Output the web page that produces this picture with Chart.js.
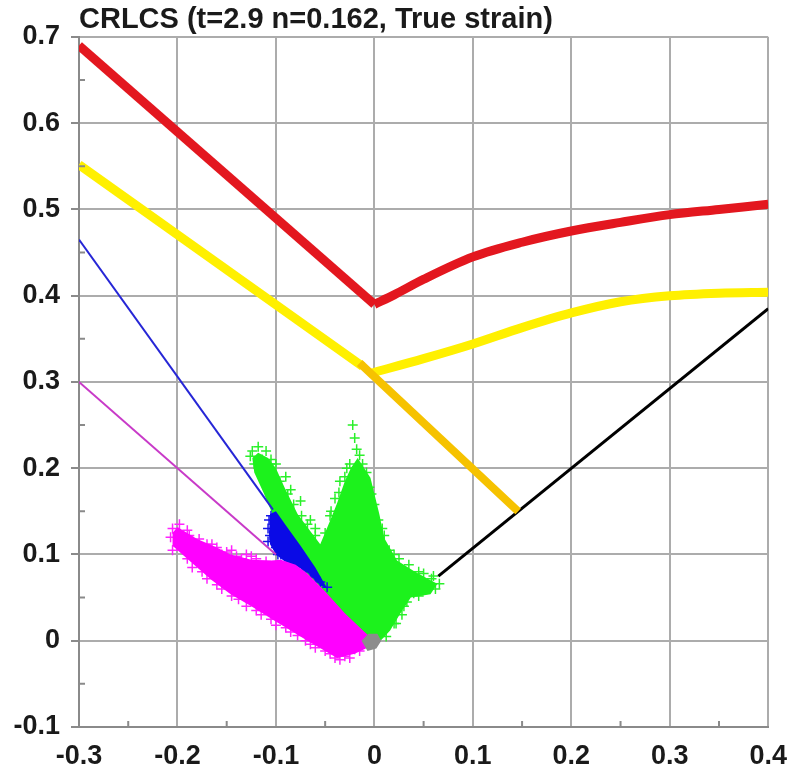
<!DOCTYPE html>
<html>
<head>
<meta charset="utf-8">
<title>CRLCS FLD</title>
<script src="https://cdn.jsdelivr.net/npm/chart.js@4/dist/chart.umd.min.js"></script>
<style>
  html, body { margin: 0; padding: 0; background: #fff; }
  #wrap { width: 800px; height: 773px; position: relative; }
</style>
</head>
<body>
<div id="wrap"><canvas id="fld"></canvas></div>
<script>
// axis ranges / ticks
const X_MIN = -0.3, X_MAX = 0.4, Y_MIN = -0.1, Y_MAX = 0.7;
const MINOR_X = [-0.25, -0.15, -0.05, 0.05, 0.15, 0.25, 0.35];
const MINOR_Y = [-0.05, 0.05, 0.15, 0.25, 0.35, 0.45, 0.55, 0.65];

// curves, [minor strain, major strain]
const redLeft = [[-0.3, 0.69], [0, 0.39]];
const redRight = [[0, 0.39], [0.02, 0.401], [0.05, 0.419], [0.1, 0.445], [0.15, 0.462],
  [0.2, 0.475], [0.25, 0.485], [0.3, 0.494], [0.35, 0.50], [0.4, 0.506]];
const yellowLeft = [[-0.3, 0.552], [-0.012, 0.318]];
const yellowRight = [[-0.004, 0.31], [0.05, 0.327], [0.1, 0.344], [0.15, 0.363], [0.2, 0.38],
  [0.25, 0.393], [0.3, 0.4], [0.35, 0.403], [0.4, 0.404]];
const orangeLine = [[-0.015, 0.322], [0.146, 0.15]];
const blackLine = [[0.065, 0.075], [0.4, 0.385]];
const blueLine = [[-0.3, 0.465], [-0.103, 0.152]];
const magentaLine = [[-0.3, 0.30], [-0.1, 0.10]];

// measured strain clouds: outline (starts leftmost, ends rightmost) + loose points
const greenCloud = [[-0.124, 0.212], [-0.118, 0.218], [-0.108, 0.212], [-0.1, 0.2], [-0.091, 0.177],
  [-0.078, 0.147], [-0.065, 0.127], [-0.055, 0.112], [-0.045, 0.139], [-0.038, 0.159], [-0.03, 0.185],
  [-0.024, 0.2], [-0.017, 0.212], [-0.004, 0.189], [0.005, 0.147], [0.01, 0.119], [0.023, 0.093],
  [0.04, 0.081], [0.057, 0.07], [0.064, 0.066], [0.057, 0.054], [0.037, 0.05], [0.026, 0.031],
  [0.016, 0.012], [0.003, -0.004], [-0.02, 0.012], [-0.051, 0.048], [-0.08, 0.092], [-0.101, 0.14],
  [-0.112, 0.17], [-0.122, 0.195], [-0.124, 0.212], [0.064, 0.066]];
const greenPts = [[-0.022, 0.25], [-0.02, 0.235], [-0.018, 0.222], [-0.124, 0.22], [-0.118, 0.225],
  [-0.11, 0.22], [-0.1, 0.205], [-0.09, 0.19], [-0.075, 0.162], [-0.065, 0.14], [-0.045, 0.145],
  [-0.035, 0.185], [-0.028, 0.2], [-0.012, 0.205], [-0.003, 0.17], [0.008, 0.13], [0.02, 0.1],
  [0.035, 0.088], [0.05, 0.078], [0.06, 0.075], [0.066, 0.066], [0.055, 0.06], [0.04, 0.055],
  [0.03, 0.04], [0.02, 0.02], [-0.06, 0.13], [-0.05, 0.125], [-0.085, 0.175], [-0.105, 0.21],
  [-0.126, 0.214], [-0.122, 0.205], [-0.114, 0.21], [-0.106, 0.205], [-0.096, 0.185], [-0.088, 0.17],
  [-0.082, 0.158], [-0.074, 0.145], [-0.068, 0.135], [-0.06, 0.122], [-0.044, 0.15], [-0.04, 0.165],
  [-0.036, 0.172], [-0.03, 0.19], [-0.025, 0.205], [-0.015, 0.215], [-0.008, 0.195], [-0.005, 0.178],
  [0.0, 0.158], [0.004, 0.14], [0.01, 0.122], [0.015, 0.105], [0.025, 0.095], [0.045, 0.08],
  [0.058, 0.072], [0.062, 0.06], [0.045, 0.052], [0.033, 0.045], [0.028, 0.03], [0.022, 0.02],
  [0.012, 0.005]];

const blueCloud = [[-0.107, 0.125], [-0.106, 0.147], [-0.1, 0.15], [-0.09, 0.134], [-0.075, 0.11],
  [-0.06, 0.085], [-0.048, 0.061], [-0.055, 0.064], [-0.068, 0.079], [-0.08, 0.087], [-0.091, 0.092],
  [-0.1, 0.1], [-0.106, 0.112], [-0.107, 0.125], [-0.048, 0.061]];
const bluePts = [[-0.105, 0.145], [-0.108, 0.13], [-0.108, 0.115], [-0.1, 0.108], [-0.095, 0.1],
  [-0.085, 0.095], [-0.075, 0.09], [-0.065, 0.08], [-0.055, 0.068], [-0.048, 0.062], [-0.107, 0.14],
  [-0.106, 0.122], [-0.098, 0.1], [-0.09, 0.098], [-0.08, 0.088], [-0.07, 0.082], [-0.06, 0.074]];

const magentaCloud = [[-0.205, 0.125], [-0.2, 0.132], [-0.19, 0.125], [-0.18, 0.118], [-0.16, 0.108],
  [-0.146, 0.1], [-0.125, 0.094], [-0.105, 0.093], [-0.095, 0.094], [-0.08, 0.088], [-0.068, 0.078],
  [-0.05, 0.057], [-0.03, 0.032], [-0.01, 0.01], [0.002, -0.002], [-0.007, -0.008], [-0.02, -0.015],
  [-0.038, -0.02], [-0.05, -0.012], [-0.068, 0.0], [-0.085, 0.012], [-0.101, 0.023], [-0.125, 0.04],
  [-0.146, 0.054], [-0.165, 0.07], [-0.18, 0.085], [-0.195, 0.1], [-0.205, 0.11], [-0.205, 0.125],
  [0.002, -0.002]];
const magentaPts = [[-0.205, 0.13], [-0.2, 0.125], [-0.195, 0.12], [-0.19, 0.128], [-0.185, 0.115],
  [-0.17, 0.112], [-0.16, 0.108], [-0.15, 0.103], [-0.14, 0.098], [-0.13, 0.1], [-0.12, 0.095],
  [-0.2, 0.11], [-0.19, 0.095], [-0.175, 0.08], [-0.16, 0.065], [-0.145, 0.052], [-0.13, 0.04],
  [-0.115, 0.03], [-0.1, 0.018], [-0.085, 0.01], [-0.07, 0.0], [-0.06, -0.008], [-0.045, -0.015],
  [-0.035, -0.022], [-0.025, -0.02], [-0.015, -0.012], [-0.207, 0.12], [-0.198, 0.135],
  [-0.188, 0.122], [-0.178, 0.118], [-0.165, 0.112], [-0.155, 0.1], [-0.145, 0.105], [-0.135, 0.095],
  [-0.125, 0.098], [-0.11, 0.092], [-0.205, 0.105], [-0.185, 0.085], [-0.17, 0.072], [-0.155, 0.06],
  [-0.138, 0.048], [-0.12, 0.035], [-0.105, 0.025], [-0.09, 0.015], [-0.078, 0.006], [-0.065, -0.004],
  [-0.05, -0.012], [-0.04, -0.02], [-0.03, -0.018], [-0.02, -0.01]];

const grayCloud = [[-0.013, 0.0], [-0.006, 0.008], [0.003, 0.008], [0.007, 0.0], [0.002, -0.009],
  [-0.007, -0.012], [-0.013, 0.0], [0.007, 0.0]];

Chart.defaults.font.family = "'Liberation Sans', Arial, sans-serif";
Chart.defaults.color = '#1a1a1a';

const GRID = '#acacac';
const AXIS = '#8a8a8a';

const toXY = (arr) => arr.map(([x, y]) => ({ x, y }));

function lineSet(data, color, width, order, smooth) {
  return {
    data: toXY(data),
    borderColor: color,
    borderWidth: width,
    pointRadius: 0,
    fill: false,
    tension: smooth ? 0.4 : 0,
    cubicInterpolationMode: smooth ? 'monotone' : 'default',
    borderCapStyle: 'butt',
    order,
  };
}

function cloudSet(data, color, order) {
  return {
    data: toXY(data),
    borderWidth: 0,
    borderColor: 'transparent',
    backgroundColor: color,
    pointRadius: 0,
    fill: 'shape',
    tension: 0,
    order,
  };
}

function pointSet(data, color, order) {
  return {
    data: toXY(data),
    showLine: false,
    pointStyle: 'cross',
    pointRadius: 5,
    borderColor: color,
    borderWidth: 1.5,
    order,
  };
}

// small inward ticks at the half steps
const minorTicks = {
  id: 'minorTicks',
  afterDraw(chart) {
    const { ctx, chartArea, scales } = chart;
    ctx.save();
    ctx.strokeStyle = AXIS;
    ctx.lineWidth = 2;
    ctx.beginPath();
    MINOR_X.forEach((v) => {
      const px = scales.x.getPixelForValue(v);
      ctx.moveTo(px, chartArea.bottom);
      ctx.lineTo(px, chartArea.bottom - 6);
    });
    MINOR_Y.forEach((v) => {
      const py = scales.y.getPixelForValue(v);
      ctx.moveTo(chartArea.left, py);
      ctx.lineTo(chartArea.left + 6, py);
    });
    ctx.stroke();
    ctx.restore();
  },
};

const tickLabel = (v) => String(Math.round(v * 10) / 10);

new Chart(document.getElementById('fld'), {
  type: 'line',
  data: {
    datasets: [
      lineSet(redLeft, '#e3171f', 9, 1),
      lineSet(redRight, '#e3171f', 9, 1, true),
      lineSet(yellowLeft, '#fff000', 9, 3),
      lineSet(yellowRight, '#fff000', 9, 3, true),
      lineSet(orangeLine, '#f6c200', 8, 2),
      lineSet(blackLine, '#000000', 3, 4),
      lineSet(blueLine, '#2626d6', 2, 5),
      lineSet(magentaLine, '#c83ac8', 2, 5),
      cloudSet(grayCloud, '#8c8c8c', 6),
      cloudSet(magentaCloud, '#ff00ff', 7),
      pointSet(magentaPts, '#ff22ff', 7),
      cloudSet(blueCloud, '#0a0ae6', 8),
      pointSet(bluePts, '#1414e8', 8),
      cloudSet(greenCloud, '#1cf21c', 9),
      pointSet(greenPts, '#2af02a', 9),
    ],
  },
  options: {
    responsive: true,
    maintainAspectRatio: false,
    animation: false,
    layout: { padding: { left: 0, right: 31, top: 0, bottom: 0 } },
    plugins: {
      legend: { display: false },
      tooltip: { enabled: false },
      title: {
        display: true,
        text: 'CRLCS (t=2.9 n=0.162, True strain)',
        align: 'start',
        fullSize: false,
        color: '#1a1a1a',
        font: { size: 29, weight: 'bold', lineHeight: 1.15 },
        padding: { top: 3, bottom: 0.6 },
      },
    },
    scales: {
      x: {
        type: 'linear',
        min: X_MIN,
        max: X_MAX,
        afterFit: (s) => { s.height = 46; },
        grid: { color: GRID, lineWidth: 2, drawTicks: false },
        border: { color: AXIS, width: 2 },
        ticks: {
          stepSize: 0.1,
          padding: 13,
          font: { size: 27, weight: 'bold' },
          callback: tickLabel,
        },
      },
      y: {
        type: 'linear',
        min: Y_MIN,
        max: Y_MAX,
        afterFit: (s) => { s.width = 79; },
        grid: { color: GRID, lineWidth: 2, tickLength: 8, tickColor: AXIS },
        border: { color: AXIS, width: 2 },
        ticks: {
          stepSize: 0.1,
          padding: 11,
          font: { size: 27, weight: 'bold' },
          callback: tickLabel,
        },
      },
    },
  },
  plugins: [minorTicks],
});
</script>
</body>
</html>
